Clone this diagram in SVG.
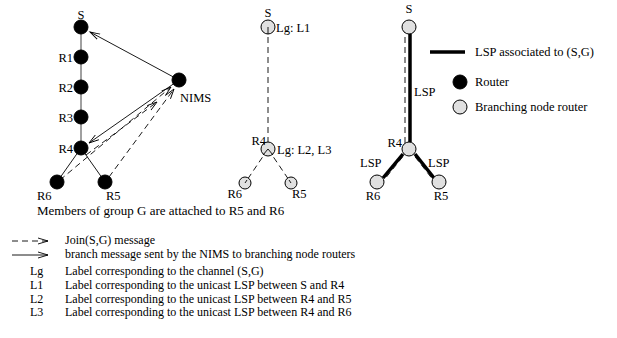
<svg xmlns="http://www.w3.org/2000/svg" width="617" height="338" viewBox="0 0 617 338">
<defs>
<marker id="ah" markerWidth="12" markerHeight="8" refX="10" refY="4" orient="auto" markerUnits="userSpaceOnUse">
<path d="M0,1 L10,4 L0,7" fill="none" stroke="#000" stroke-width="0.9"/>
</marker>
<style>
text{font-family:"Liberation Serif","Times New Roman",serif;font-size:12.5px;fill:#000}
.leg{font-size:12px}
.blk{fill:#000;stroke:#000}
.gry{fill:#e0e0e0;stroke:#000;stroke-width:1}
.thin{stroke:#000;stroke-width:0.9;fill:none}
.dash{stroke:#000;stroke-width:0.9;fill:none;stroke-dasharray:6 4}
.thick{stroke:#000;stroke-width:3.5;fill:none}
.mid{text-anchor:middle}
.end{text-anchor:end}
</style>
</defs>
<rect width="617" height="338" fill="#fff"/>

<g id="connectors">
<!-- left figure -->
<line x1="81" y1="27" x2="81" y2="148" stroke="#808080" stroke-width="1.5"/>
<line class="thin" x1="81" y1="148" x2="57" y2="182"/>
<line class="thin" x1="81" y1="148" x2="105" y2="182"/>
<line class="thin" x1="179" y1="80" x2="90" y2="32" marker-end="url(#ah)"/>
<line class="thin" x1="179" y1="80" x2="89" y2="143" marker-end="url(#ah)"/>
<line class="dash" x1="60" y1="180" x2="171" y2="87" marker-end="url(#ah)"/>
<line class="dash" x1="86" y1="155" x2="157" y2="102" marker-end="url(#ah)"/>
<line class="dash" x1="109" y1="177" x2="174" y2="89" marker-end="url(#ah)"/>
<!-- middle figure -->
<line class="dash" x1="268" y1="27" x2="268" y2="149"/>
<line class="dash" x1="268" y1="149" x2="245" y2="183" stroke-dasharray="7 7"/>
<line class="dash" x1="268" y1="149" x2="291" y2="183" stroke-dasharray="7 7"/>
<!-- right figure -->
<line class="thick" x1="410" y1="34" x2="410" y2="142"/>
<line class="dash" x1="405" y1="27" x2="405" y2="149"/>
<line class="thick" x1="403" y1="154" x2="383" y2="178"/>
<line class="thick" x1="415" y1="154" x2="434" y2="178"/>
<line class="dash" x1="409" y1="149" x2="380" y2="185"/>
<line class="dash" x1="409" y1="149" x2="437" y2="185"/>
</g>

<g id="left-S"><circle class="blk" cx="81" cy="27" r="7"/><text class="mid" x="81" y="19">S</text></g>
<g id="left-R1"><circle class="blk" cx="81" cy="57" r="7"/><text class="end" x="73" y="62">R1</text></g>
<g id="left-R2"><circle class="blk" cx="81" cy="87" r="7"/><text class="end" x="73" y="92">R2</text></g>
<g id="left-R3"><circle class="blk" cx="81" cy="117" r="7"/><text class="end" x="73" y="122">R3</text></g>
<g id="left-R4"><circle class="blk" cx="81" cy="148" r="7"/><text class="end" x="73" y="153">R4</text></g>
<g id="left-R6"><circle class="blk" cx="57" cy="182" r="7"/><text x="37" y="200">R6</text></g>
<g id="left-R5"><circle class="blk" cx="105" cy="182" r="7"/><text x="106" y="200">R5</text></g>
<g id="left-NIMS"><circle class="blk" cx="179" cy="80" r="7"/><text x="180" y="102">NIMS</text></g>

<g id="mid-S"><circle class="gry" cx="268" cy="27" r="7"/><line class="thin" x1="268" y1="27" x2="268" y2="34"/><text class="mid" x="268" y="17">S</text><text x="276" y="32">Lg: L1</text></g>
<g id="mid-R4"><circle class="gry" cx="268" cy="149" r="7"/><path class="thin" d="M263,155 L268,149 L273,155"/><text class="end" x="266" y="145">R4</text><text x="277" y="154">Lg: L2, L3</text></g>
<g id="mid-R6"><circle class="gry" cx="245" cy="183" r="6"/><line class="thin" x1="247" y1="180" x2="245" y2="183"/><text class="end" x="242" y="198">R6</text></g>
<g id="mid-R5"><circle class="gry" cx="291" cy="183" r="6"/><line class="thin" x1="289" y1="180" x2="291" y2="183"/><text x="292" y="198">R5</text></g>

<g id="right-S"><circle class="gry" cx="409" cy="27" r="7"/><text class="mid" x="409" y="13">S</text></g>
<g id="right-R4"><circle class="gry" cx="409" cy="149" r="7"/><text class="end" x="402" y="147">R4</text></g>
<g id="right-R6"><circle class="gry" cx="377" cy="182" r="7"/><text class="mid" x="373" y="200">R6</text></g>
<g id="right-R5"><circle class="gry" cx="439" cy="182" r="7"/><text class="mid" x="441" y="200">R5</text></g>
<g id="right-labels"><text x="414" y="96">LSP</text><text x="360" y="167">LSP</text><text x="428" y="167">LSP</text></g>

<g id="legend-right">
<line class="thick" x1="430" y1="52" x2="465" y2="52"/><text x="475" y="56">LSP associated to (S,G)</text>
<circle class="blk" cx="460" cy="82" r="7"/><text x="475" y="86">Router</text>
<circle class="gry" cx="460" cy="107" r="7"/><text x="475" y="111">Branching node router</text>
</g>

<g id="legend-bottom">
<text x="37" y="215" style="font-size:13px">Members of group G are attached to R5 and R6</text>
<line class="dash" x1="12" y1="241" x2="48" y2="241" stroke-dasharray="6 5" marker-end="url(#ah)"/>
<text class="leg" x="65" y="244">Join(S,G) message</text>
<line class="thin" x1="12" y1="255" x2="48" y2="255" stroke-width="1.3" marker-end="url(#ah)"/>
<text class="leg" x="65" y="258">branch message sent by the NIMS to branching node routers</text>
<text class="leg" x="30" y="275">Lg</text><text class="leg" x="65" y="275">Label corresponding to the channel (S,G)</text>
<text class="leg" x="30" y="289">L1</text><text class="leg" x="65" y="289">Label corresponding to the unicast LSP between S and R4</text>
<text class="leg" x="30" y="302.5">L2</text><text class="leg" x="65" y="302.5">Label corresponding to the unicast LSP between R4 and R5</text>
<text class="leg" x="30" y="316">L3</text><text class="leg" x="65" y="316">Label corresponding to the unicast LSP between R4 and R6</text>
</g>
</svg>
